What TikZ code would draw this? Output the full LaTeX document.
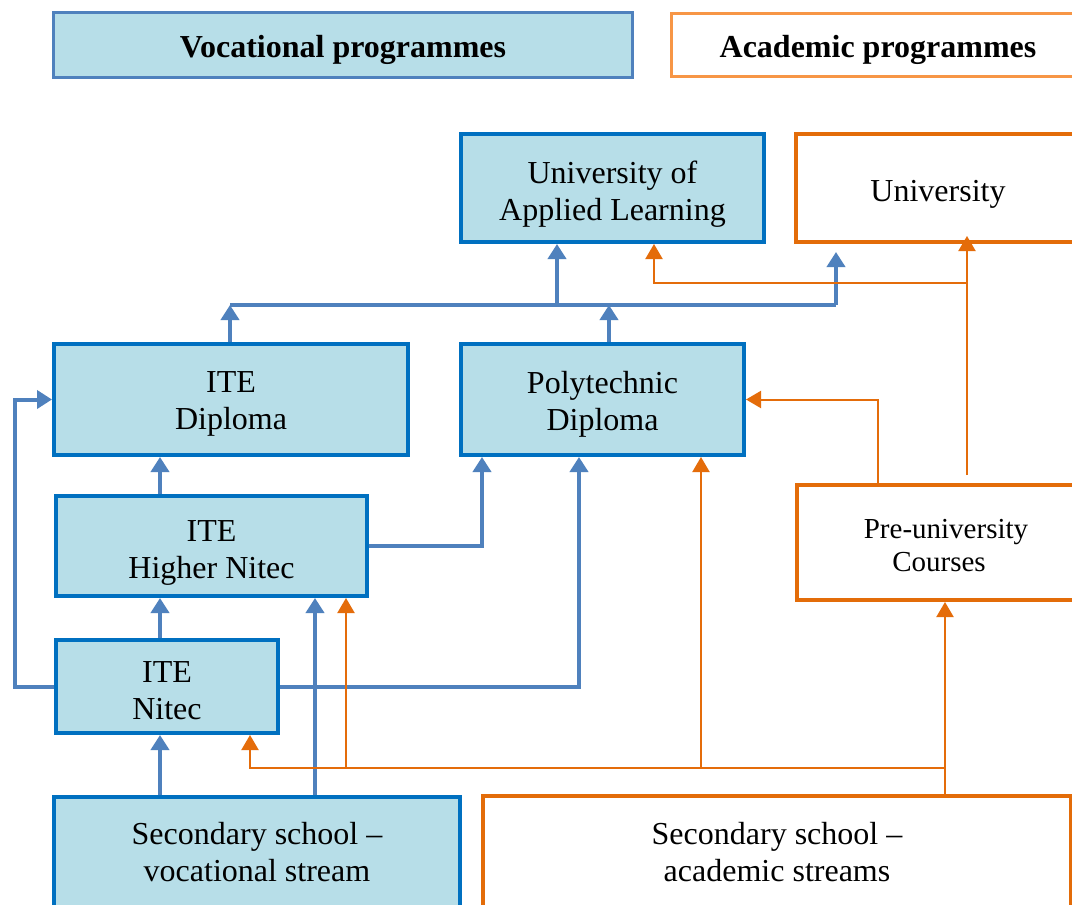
\documentclass[tikz,border=0pt]{standalone}
\usepackage{fontspec}
\setmainfont{Liberation Serif}
\usetikzlibrary{arrows.meta}
\definecolor{boxfill}{RGB}{183,222,232}
\definecolor{boxblue}{RGB}{0,112,192}
\definecolor{lineblue}{RGB}{79,129,189}
\definecolor{boxorange}{RGB}{227,108,9}
\definecolor{lineorange}{RGB}{228,108,10}
\definecolor{headorange}{RGB}{247,150,70}
\tikzset{
  down/.style={execute at begin node={\rule{0pt}{#1}}},
  txt/.style 2 args={label={[align=center, inner sep=0pt, font=\fontsize{32}{37}\selectfont, yshift=-#1]center:{#2}}},
  stxt/.style 2 args={label={[align=center, inner sep=0pt, font=\fontsize{29}{33}\selectfont, yshift=-#1]center:{#2}}},
  vbox/.style={draw=boxblue, fill=boxfill, line width=4pt, inner sep=0pt, align=center,
    font=\fontsize{32}{37}\selectfont},
  abox/.style={draw=boxorange, fill=white, line width=4pt, inner sep=0pt, align=center,
    font=\fontsize{32}{37}\selectfont},
  vhead/.style={draw=lineblue, fill=boxfill, line width=3pt, inner sep=0pt,
    font=\fontsize{32}{37}\selectfont\bfseries, down=32pt},
  ahead/.style={draw=headorange, fill=white, line width=3pt, inner sep=0pt,
    font=\fontsize{32}{37}\selectfont\bfseries, down=32pt},
  bl/.style={draw=lineblue, line width=4pt, -{Triangle[width=18pt,length=15pt]}},
  blnotip/.style={draw=lineblue, line width=4pt},
  ol/.style={draw=lineorange, line width=2pt, -{Triangle[width=17pt,length=15pt]}},
}
\begin{document}
\begin{tikzpicture}[x=1pt,y=-1pt]
\useasboundingbox (0,0) rectangle (1072,905);
\fill[white] (0,0) rectangle (1072,905);
\clip (0,0) rectangle (1072,905);

% header boxes
\node[vhead, minimum width=579pt, minimum height=65pt] (vh) at (343,45) {Vocational programmes};
\node[ahead, minimum width=413pt, minimum height=63pt] (ah) at (878,45) {Academic programmes};

% main boxes
\node[vbox, minimum width=303pt, minimum height=108pt, txt={6pt}{University of\\Applied Learning}] (ual) at (612.5,188) {};
\node[abox, down=34pt, minimum width=284pt, minimum height=108pt] (uni) at (938,188) {University};
\node[vbox, minimum width=354pt, minimum height=111pt, txt={4.5pt}{ITE\\Diploma}] (itedip) at (231,399.5) {};
\node[vbox, minimum width=283pt, minimum height=111pt, txt={5pt}{Polytechnic\\Diploma}] (poly) at (602.5,399.5) {};
\node[vbox, minimum width=311pt, minimum height=100pt, txt={6.5pt}{ITE\\Higher Nitec}] (hn) at (211.5,546) {};
\node[vbox, minimum width=222pt, minimum height=93pt, txt={4pt}{ITE\\Nitec}] (nitec) at (167,686.5) {};
\node[vbox, minimum width=406pt, minimum height=111pt] (sv) at (257,852.5) {Secondary school --\\vocational stream};
\node[abox, minimum width=588pt, minimum height=112pt] (sa) at (777,852) {Secondary school --\\academic streams};
\node[abox, minimum width=298pt, minimum height=115pt, stxt={3pt}{Pre-university\\Courses\hspace*{14pt}}] (pu) at (946,542.5) {};

% coordinates for junctions
\coordinate (busW) at (230,305);
\coordinate (busE) at (836,305);
\coordinate (uniIn) at (836,252);
\coordinate (busUAL) at (557,305);
\coordinate (lft) at (15,500);
\coordinate (ojn) at (967,283);
\coordinate (ojs) at (945,768);
\coordinate (oj2) at (701,768);
\coordinate (oj3) at (346,768);

% blue connectors
\draw[bl] ([xshift=-1pt]itedip.north) -- ([xshift=-1pt]itedip.north |- busW);
\draw[blnotip] (busW) -- (busE);
\draw[bl] (busE) -- (uniIn);
\draw[bl] (busUAL) -- (busUAL |- ual.south);
\draw[bl] ([xshift=6.5pt]poly.north) -- ([xshift=6.5pt]poly.north |- busW);
\draw[bl] ([xshift=-51.5pt]hn.north) -- ([xshift=-51.5pt]hn.north |- itedip.south);
\draw[bl] ([xshift=-7pt]nitec.north) -- ([xshift=-7pt]nitec.north |- hn.south);
\draw[bl] ([xshift=-97pt]sv.north) -- ([xshift=-97pt]sv.north |- nitec.south);
\draw[bl] ([xshift=58pt]sv.north) -- ([xshift=58pt]sv.north |- hn.south);
\draw[bl] (nitec.west) -| (lft) |- (itedip.west);
\draw[bl] (nitec.east) -| ([xshift=-23.5pt]poly.south);
\draw[bl] (hn.east) -| ([xshift=-120.5pt]poly.south);

% orange connectors
\draw[ol] ([xshift=21pt,yshift=8pt]pu.north) -- ([xshift=21pt,yshift=8pt]pu.north |- uni.south);
\draw[ol] (ojn) -| ([xshift=41.5pt]ual.south);
\draw[ol] ([xshift=-68pt]pu.north) |- (poly.east);
\draw[ol] ([xshift=168pt]sa.north) -- ([xshift=168pt]sa.north |- pu.south);
\draw[ol] (ojs) -| ([xshift=83pt]nitec.south);
\draw[ol] (oj2) -- (oj2 |- poly.south);
\draw[ol] (oj3) -- (oj3 |- hn.south);
\end{tikzpicture}
\end{document}
